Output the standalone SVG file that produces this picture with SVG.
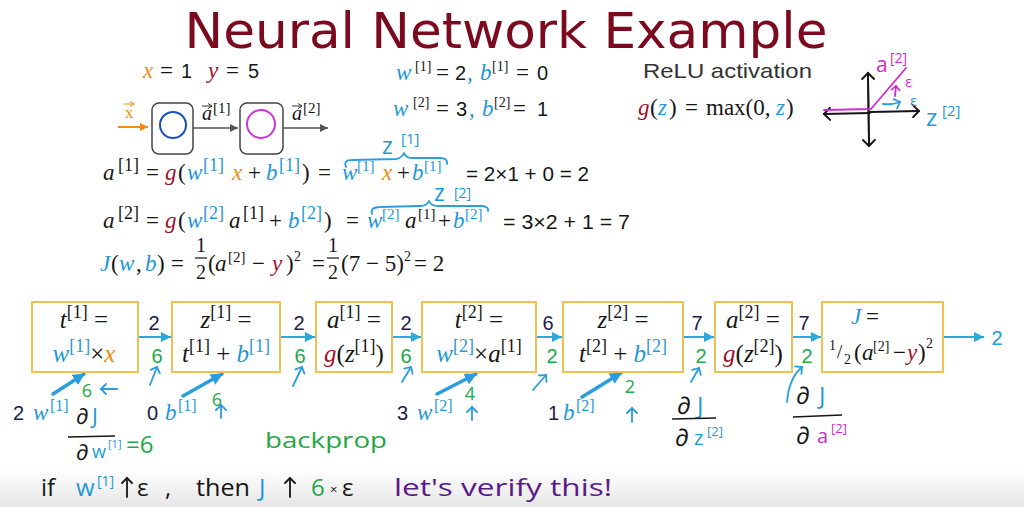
<svg xmlns="http://www.w3.org/2000/svg" width="1024" height="507" viewBox="0 0 1024 507">
<style>
.m{font-family:"Liberation Serif",serif;font-size:23px;fill:#161616}
.bt{font-size:25px}
.i{font-style:italic}
.s{font-size:18px}
.s3{font-size:15px}
.s2{font-size:14px}
.sans{font-family:"Liberation Sans",sans-serif}
.hw{font-family:"Open Sans","DejaVu Sans",sans-serif}
.bl{fill:#1e98d8}
.or{fill:#f08c10}
.rd{fill:#a0102c}
.mg{fill:#d02ad2}
.gr{fill:#22a845}
.nv{fill:#1c1c4e}
.pu{fill:#5a1a8a}
.box{fill:#fff;stroke:#f2c04c;stroke-width:2}
.conn{stroke:#2aa8e0;stroke-width:2;fill:none}
.thick{stroke:#2a9ce0;stroke-width:3.5;fill:none;stroke-linecap:round}
.hand{stroke:#2a9ce0;stroke-width:1.8;fill:none;stroke-linecap:round;stroke-linejoin:round}
.ink{stroke:#161616;stroke-width:1.8;fill:none;stroke-linecap:round;stroke-linejoin:round}
.mgl{stroke:#d02ad2;stroke-width:1.8;fill:none;stroke-linecap:round;stroke-linejoin:round}
.nw{stroke:#555;stroke-width:1.5;fill:none}
.nbox{fill:#fff;stroke:#444;stroke-width:1.5}
</style>
<defs>
<marker id="hBlue" markerUnits="userSpaceOnUse" markerWidth="12" markerHeight="10" refX="10" refY="5" orient="auto"><path d="M0,0 L10,5 L0,10 z" fill="#2aa8e0"/></marker>
<marker id="hThick" markerUnits="userSpaceOnUse" markerWidth="14" markerHeight="12" refX="11" refY="6" orient="auto"><path d="M0,0 L12,6 L0,12 z" fill="#2a9ce0"/></marker>
<marker id="hGray" markerUnits="userSpaceOnUse" markerWidth="10" markerHeight="8" refX="8" refY="4" orient="auto"><path d="M0,0 L8,4 L0,8 z" fill="#555"/></marker>
<marker id="hOrange" markerUnits="userSpaceOnUse" markerWidth="10" markerHeight="8" refX="8" refY="4" orient="auto"><path d="M0,0 L8,4 L0,8 z" fill="#f08c10"/></marker>
<marker id="cBlue" markerUnits="userSpaceOnUse" markerWidth="12" markerHeight="12" refX="6" refY="6" orient="auto"><path d="M1,1 L6,6 L1,11" fill="none" stroke="#2a9ce0" stroke-width="1.8" stroke-linecap="round"/></marker>
<marker id="cInk" markerUnits="userSpaceOnUse" markerWidth="14" markerHeight="14" refX="7" refY="7" orient="auto"><path d="M1,1 L7,7 L1,13" fill="none" stroke="#161616" stroke-width="2" stroke-linecap="round"/></marker>
<marker id="cInkS" markerUnits="userSpaceOnUse" markerWidth="12" markerHeight="12" refX="6" refY="6" orient="auto"><path d="M1,1 L6,6 L1,11" fill="none" stroke="#161616" stroke-width="1.8" stroke-linecap="round"/></marker>
<marker id="cMg" markerUnits="userSpaceOnUse" markerWidth="10" markerHeight="10" refX="5" refY="5" orient="auto"><path d="M1,1 L5,5 L1,9" fill="none" stroke="#d02ad2" stroke-width="1.6" stroke-linecap="round"/></marker>
<marker id="cTiny" markerUnits="userSpaceOnUse" markerWidth="6" markerHeight="6" refX="4" refY="3" orient="auto"><path d="M0,0.5 L4,3 L0,5.5" fill="none" stroke="#333" stroke-width="1"/></marker>
<marker id="cTinyO" markerUnits="userSpaceOnUse" markerWidth="6" markerHeight="6" refX="4" refY="3" orient="auto"><path d="M0,0.5 L4,3 L0,5.5" fill="none" stroke="#f08c10" stroke-width="1"/></marker>
<linearGradient id="fade" x1="0" y1="0" x2="0" y2="1"><stop offset="0" stop-color="#ffffff"/><stop offset="1" stop-color="#e6e6e6"/></linearGradient>
</defs>
<rect width="1024" height="507" fill="#fff"/>
<rect x="0" y="468" width="1024" height="39" fill="url(#fade)"/>

<g id="title">
<text x="506" y="48" text-anchor="middle" font-family="DejaVu Sans, sans-serif" font-size="50" fill="#7b0a1e" textLength="643" lengthAdjust="spacingAndGlyphs">Neural Network Example</text>
</g>

<g id="givens">
<text class="m" y="78"><tspan x="143" class="i or">x</tspan><tspan x="160">=</tspan><tspan x="181" class="sans" font-size="20">1</tspan><tspan x="208" class="i rd">y</tspan><tspan x="226">=</tspan><tspan x="248" class="sans" font-size="20">5</tspan></text>
<text class="m" y="80"><tspan x="396" class="i bl">w</tspan><tspan x="415" y="71" class="s2">[1]</tspan><tspan x="436" y="80">=</tspan><tspan x="455" class="sans" font-size="20">2</tspan><tspan x="467" class="bl">,</tspan><tspan x="480" class="i bl">b</tspan><tspan x="492" y="71" class="s2">[1]</tspan><tspan x="516" y="80">=</tspan><tspan x="537" class="sans" font-size="20">0</tspan></text>
<text class="m" y="116"><tspan x="393" class="i bl">w</tspan><tspan x="413" y="107" class="s2">[2]</tspan><tspan x="436" y="116">=</tspan><tspan x="456" class="sans" font-size="20">3</tspan><tspan x="469" class="bl">,</tspan><tspan x="482" class="i bl">b</tspan><tspan x="494" y="107" class="s2">[2]</tspan><tspan x="513" y="116">=</tspan><tspan x="537" class="sans" font-size="20">1</tspan></text>
</g>

<g id="relu">
<text x="643" y="78" font-family="Liberation Sans, sans-serif" font-size="21" fill="#333" textLength="169" lengthAdjust="spacingAndGlyphs">ReLU activation</text>
<text class="m" y="115"><tspan x="638" class="i rd">g</tspan><tspan x="650">(</tspan><tspan x="658" class="i bl">z</tspan><tspan x="669">)</tspan><tspan x="685">=</tspan><tspan x="706">max(0,</tspan><tspan x="776" class="i bl">z</tspan><tspan x="786">)</tspan></text>
<path class="ink" d="M869,146 L868,73" marker-end="url(#cInk)"/>
<path class="ink" d="M868,73 L869,146" marker-end="url(#cInk)"/>
<path class="ink" d="M870,112 L919,111" marker-end="url(#cInk)"/>
<path class="ink" d="M870,113 L824,114" marker-end="url(#cInk)"/>
<path class="mgl" d="M824,110 L871,109 L906,68"/>
<path class="mgl" d="M895,96 L896,86" marker-end="url(#cMg)"/>
<path class="hand" d="M883,104 Q892,105 900,102" marker-end="url(#cBlue)"/>
<text x="876" y="72" class="hw mg" font-size="21">a</text>
<text x="890" y="63" class="hw mg" font-size="14">[2]</text>
<text x="905" y="87" class="hw mg" font-size="15">ε</text>
<text x="910" y="106" class="hw bl" font-size="15">ε</text>
<text x="926" y="126" class="hw bl" font-size="24">z</text>
<text x="942" y="116" class="hw bl" font-size="15">[2]</text>
</g>

<g id="network">
<rect class="nbox" x="152" y="103" width="41" height="51" rx="7"/>
<circle cx="173" cy="125" r="13" fill="none" stroke="#1a4fc0" stroke-width="2"/>
<rect class="nbox" x="240" y="103" width="43" height="51" rx="7"/>
<circle cx="261" cy="124" r="14" fill="none" stroke="#d030d8" stroke-width="2"/>
<line x1="118" y1="127" x2="148" y2="127" stroke="#f08c10" stroke-width="2" marker-end="url(#hOrange)"/>
<line x1="193" y1="128" x2="238" y2="128" class="nw" marker-end="url(#hGray)"/>
<line x1="283" y1="128" x2="328" y2="128" class="nw" marker-end="url(#hGray)"/>
<text x="125" y="118" font-family="Liberation Serif, serif" font-size="17" fill="#f08c10">x</text>
<line x1="124" y1="104" x2="134" y2="104" stroke="#f08c10" stroke-width="1" marker-end="url(#cTinyO)"/>
<text x="202" y="120" class="m i" style="font-size:20px">a</text>
<text x="213" y="113" class="m" style="font-size:15px">[1]</text>
<line x1="202" y1="106" x2="212" y2="106" stroke="#333" stroke-width="1" marker-end="url(#cTiny)"/>
<text x="292" y="120" class="m i" style="font-size:20px">a</text>
<text x="303" y="113" class="m" style="font-size:15px">[2]</text>
<line x1="292" y1="106" x2="302" y2="106" stroke="#333" stroke-width="1" marker-end="url(#cTiny)"/>
</g>

<g id="equations">
<text class="m" y="180"><tspan x="103" class="i">a</tspan><tspan x="118" y="171" class="s">[1]</tspan><tspan x="146" y="180">=</tspan><tspan x="165" class="i rd">g</tspan><tspan x="178">(</tspan><tspan x="187" class="i bl">w</tspan><tspan x="203" y="171" class="s bl">[1]</tspan><tspan x="232" y="180" class="i or">x</tspan><tspan x="248">+</tspan><tspan x="266" class="i bl">b</tspan><tspan x="279" y="171" class="s bl">[1]</tspan><tspan x="302" y="180">)</tspan><tspan x="318">=</tspan><tspan x="342" class="i bl">w</tspan><tspan x="357" y="171" class="s3 bl">[1]</tspan><tspan x="382" y="180" class="i or">x</tspan><tspan x="397">+</tspan><tspan x="412" class="i bl">b</tspan><tspan x="424" y="171" class="s3 bl">[1]</tspan></text>
<text class="m sans" x="466" y="181" style="font-size:21px" textLength="123" lengthAdjust="spacingAndGlyphs">= 2×1 + 0 = 2</text>
<text class="m" y="228"><tspan x="103" class="i">a</tspan><tspan x="118" y="219" class="s">[2]</tspan><tspan x="146" y="228">=</tspan><tspan x="165" class="i rd">g</tspan><tspan x="178">(</tspan><tspan x="187" class="i bl">w</tspan><tspan x="203" y="219" class="s bl">[2]</tspan><tspan x="229" y="228" class="i">a</tspan><tspan x="243" y="219" class="s">[1]</tspan><tspan x="269" y="228">+</tspan><tspan x="288" class="i bl">b</tspan><tspan x="301" y="219" class="s bl">[2]</tspan><tspan x="324" y="228">)</tspan><tspan x="346">=</tspan><tspan x="367" class="i bl">w</tspan><tspan x="382" y="219" class="s3 bl">[2]</tspan><tspan x="405" y="228" class="i">a</tspan><tspan x="418" y="219" class="s3">[1]</tspan><tspan x="438" y="228">+</tspan><tspan x="453" class="i bl">b</tspan><tspan x="465" y="219" class="s3 bl">[2]</tspan></text>
<text class="m sans" x="503" y="229" style="font-size:21px" textLength="127" lengthAdjust="spacingAndGlyphs">=  3×2 + 1 = 7</text>
<text class="m" y="271"><tspan x="100" class="i bl">J</tspan><tspan x="111">(</tspan><tspan x="119" class="i bl">w</tspan><tspan x="136">,</tspan><tspan x="145" class="i bl">b</tspan><tspan x="157">)</tspan><tspan x="171">=</tspan><tspan x="208">(</tspan><tspan x="215" class="i">a</tspan><tspan x="228" y="262" class="s3">[2]</tspan><tspan x="252" y="271">−</tspan><tspan x="272" class="i rd">y</tspan><tspan x="286">)</tspan><tspan x="294" y="261" class="s2">2</tspan><tspan x="312" y="271">=</tspan><tspan x="341">(7 − 5)</tspan><tspan x="404" y="261" class="s2">2</tspan><tspan x="414" y="271">= 2</tspan></text>
<text class="m" x="201" y="252" text-anchor="middle" style="font-size:20px">1</text>
<line x1="195" y1="258" x2="207" y2="258" stroke="#161616" stroke-width="1.2"/>
<text class="m" x="201" y="279" text-anchor="middle" style="font-size:20px">2</text>
<text class="m" x="333" y="252" text-anchor="middle" style="font-size:20px">1</text>
<line x1="327" y1="258" x2="339" y2="258" stroke="#161616" stroke-width="1.2"/>
<text class="m" x="333" y="279" text-anchor="middle" style="font-size:20px">2</text>
<path class="hand" d="M346,167 Q343,160 352,160 L396,159 Q402,158 404,153 Q406,158 412,158 L440,158 Q448,158 447,164"/>
<text x="382" y="154" class="hw bl" font-size="23">z</text>
<text x="401" y="144" class="hw bl" font-size="15">[1]</text>
<path class="hand" d="M372,214 Q370,207 380,207 L420,206 Q427,206 429,201 Q431,206 438,206 L480,206 Q489,206 488,211"/>
<text x="434" y="201" class="hw bl" font-size="23">z</text>
<text x="454" y="198" class="hw bl" font-size="14">[2]</text>
</g>

<g id="connectors">
<line class="conn" x1="138" y1="337" x2="171" y2="337" marker-end="url(#hBlue)"/>
<line class="conn" x1="280" y1="337" x2="315" y2="337" marker-end="url(#hBlue)"/>
<line class="conn" x1="392" y1="337" x2="421" y2="337" marker-end="url(#hBlue)"/>
<line class="conn" x1="536" y1="337" x2="562" y2="337" marker-end="url(#hBlue)"/>
<line class="conn" x1="683" y1="337" x2="714" y2="337" marker-end="url(#hBlue)"/>
<line class="conn" x1="792" y1="337" x2="821" y2="337" marker-end="url(#hBlue)"/>
<line class="conn" x1="943" y1="337" x2="984" y2="337" marker-end="url(#hBlue)"/>
<line class="thick" x1="53" y1="394" x2="84" y2="374" marker-end="url(#hThick)"/>
<line class="thick" x1="183" y1="396" x2="222" y2="374" marker-end="url(#hThick)"/>
<line class="thick" x1="437" y1="394" x2="476" y2="374" marker-end="url(#hThick)"/>
<line class="thick" x1="582" y1="397" x2="621" y2="373" marker-end="url(#hThick)"/>
</g>

<g id="box-t1">
<rect class="box" x="32" y="302" width="106" height="70"/>
<text class="m bt" x="84" y="328" text-anchor="middle"><tspan class="i">t</tspan><tspan class="s" dy="-10">[1]</tspan><tspan dy="10"> =</tspan></text>
<text class="m bt" x="84" y="362" text-anchor="middle"><tspan class="i bl">w</tspan><tspan class="s bl" dy="-10">[1]</tspan><tspan dy="10">×</tspan><tspan class="i or">x</tspan></text>
</g>
<g id="box-z1">
<rect class="box" x="172" y="302" width="108" height="70"/>
<text class="m bt" x="226" y="328" text-anchor="middle"><tspan class="i">z</tspan><tspan class="s" dy="-10">[1]</tspan><tspan dy="10"> =</tspan></text>
<text class="m bt" x="226" y="362" text-anchor="middle"><tspan class="i">t</tspan><tspan class="s" dy="-10">[1]</tspan><tspan dy="10"> + </tspan><tspan class="i bl">b</tspan><tspan class="s bl" dy="-10">[1]</tspan></text>
</g>
<g id="box-a1">
<rect class="box" x="316" y="302" width="76" height="70"/>
<text class="m bt" x="354" y="328" text-anchor="middle"><tspan class="i">a</tspan><tspan class="s" dy="-10">[1]</tspan><tspan dy="10"> =</tspan></text>
<text class="m bt" x="354" y="362" text-anchor="middle"><tspan class="i rd">g</tspan><tspan>(</tspan><tspan class="i">z</tspan><tspan class="s" dy="-10">[1]</tspan><tspan dy="10">)</tspan></text>
</g>
<g id="box-t2">
<rect class="box" x="422" y="302" width="114" height="70"/>
<text class="m bt" x="479" y="328" text-anchor="middle"><tspan class="i">t</tspan><tspan class="s" dy="-10">[2]</tspan><tspan dy="10"> =</tspan></text>
<text class="m bt" x="479" y="362" text-anchor="middle"><tspan class="i bl">w</tspan><tspan class="s bl" dy="-10">[2]</tspan><tspan dy="10">×</tspan><tspan class="i">a</tspan><tspan class="s" dy="-10">[1]</tspan></text>
</g>
<g id="box-z2">
<rect class="box" x="563" y="302" width="120" height="70"/>
<text class="m bt" x="623" y="328" text-anchor="middle"><tspan class="i">z</tspan><tspan class="s" dy="-10">[2]</tspan><tspan dy="10"> =</tspan></text>
<text class="m bt" x="623" y="362" text-anchor="middle"><tspan class="i">t</tspan><tspan class="s" dy="-10">[2]</tspan><tspan dy="10"> + </tspan><tspan class="i bl">b</tspan><tspan class="s bl" dy="-10">[2]</tspan></text>
</g>
<g id="box-a2">
<rect class="box" x="715" y="302" width="77" height="70"/>
<text class="m bt" x="753" y="328" text-anchor="middle"><tspan class="i">a</tspan><tspan class="s" dy="-10">[2]</tspan><tspan dy="10"> =</tspan></text>
<text class="m bt" x="753" y="362" text-anchor="middle"><tspan class="i rd">g</tspan><tspan>(</tspan><tspan class="i">z</tspan><tspan class="s" dy="-10">[2]</tspan><tspan dy="10">)</tspan></text>
</g>
<g id="box-J">
<rect class="box" x="822" y="302" width="121" height="70"/>
<text class="m" y="324"><tspan x="851" class="i bl">J</tspan><tspan x="866">=</tspan></text>
<text class="m" y="360"><tspan x="829" y="350" class="s2">1</tspan><tspan x="837" y="358" style="font-size:19px">/</tspan><tspan x="844" y="364" class="s2">2</tspan><tspan x="854" y="360">(</tspan><tspan x="862" class="i">a</tspan><tspan x="873" y="351" class="s2">[2]</tspan><tspan x="893" y="360">−</tspan><tspan x="907" class="i rd">y</tspan><tspan x="918">)</tspan><tspan x="926" y="348" class="s2">2</tspan></text>
</g>

<g id="values" font-family="Liberation Sans, sans-serif" font-size="20" text-anchor="middle">
<text x="154" y="330" class="nv">2</text><text x="157" y="363" class="gr">6</text>
<text x="299" y="330" class="nv">2</text><text x="300" y="363" class="gr">6</text>
<text x="406" y="330" class="nv">2</text><text x="406" y="363" class="gr">6</text>
<text x="548" y="330" class="nv">6</text><text x="552" y="363" class="gr">2</text>
<text x="697" y="330" class="nv">7</text><text x="701" y="363" class="gr">2</text>
<text x="804" y="330" class="nv">7</text><text x="807" y="363" class="gr">2</text>
<text x="997" y="345" class="bl">2</text>
</g>

<g id="inputs">
<text x="13" y="420" class="sans nv" font-size="20">2</text>
<text class="m" y="420"><tspan x="33" class="i bl">w</tspan><tspan x="50" y="411" class="bl" style="font-size:16px">[1]</tspan></text>
<text x="147" y="420" class="sans nv" font-size="20">0</text>
<text class="m" y="420"><tspan x="165" class="i bl">b</tspan><tspan x="178" y="411" class="bl" style="font-size:16px">[1]</tspan></text>
<text x="397" y="420" class="sans nv" font-size="20">3</text>
<text class="m" y="420"><tspan x="417" class="i bl">w</tspan><tspan x="434" y="411" class="bl" style="font-size:16px">[2]</tspan></text>
<text x="548" y="420" class="sans nv" font-size="20">1</text>
<text class="m" y="420"><tspan x="563" class="i bl">b</tspan><tspan x="576" y="411" class="bl" style="font-size:16px">[2]</tspan></text>
</g>

<g id="backprop-notes">
<path class="hand" d="M150,385 L157,367" marker-end="url(#cBlue)"/>
<path class="hand" d="M293,386 L302,367" marker-end="url(#cBlue)"/>
<path class="hand" d="M402,382 L411,367" marker-end="url(#cBlue)"/>
<path class="hand" d="M533,390 L546,375" marker-end="url(#cBlue)"/>
<path class="hand" d="M691,382 L699,368" marker-end="url(#cBlue)"/>
<path class="hand" d="M787,402 Q789,378 802,367" marker-end="url(#cBlue)"/>
<path class="hand" d="M117,389 L101,389" marker-end="url(#cBlue)"/>
<path class="hand" d="M221,418 L221,405" marker-end="url(#cBlue)"/>
<path class="hand" d="M472,420 L472,407" marker-end="url(#cBlue)"/>
<path class="hand" d="M632,422 L632,408" marker-end="url(#cBlue)"/>
<text x="87" y="397" class="hw gr" font-size="18" text-anchor="middle">6</text>
<text x="217" y="406" class="hw gr" font-size="18" text-anchor="middle">6</text>
<text x="470" y="400" class="hw gr" font-size="18" text-anchor="middle">4</text>
<text x="630" y="393" class="hw gr" font-size="18" text-anchor="middle">2</text>
<text x="76" y="424" class="hw" font-size="22" fill="#161616">∂</text>
<text x="92" y="424" class="hw bl" font-size="22">J</text>
<line x1="68" y1="437" x2="115" y2="436" stroke="#161616" stroke-width="1.5"/>
<text x="76" y="460" class="hw" font-size="22" fill="#161616">∂</text>
<text x="92" y="458" class="hw bl" font-size="18">w</text>
<text x="108" y="448" class="hw bl" font-size="11">[1]</text>
<text x="126" y="453" class="hw gr" font-size="24">=6</text>
<text x="265" y="448" class="hw gr" font-size="22" textLength="122" lengthAdjust="spacingAndGlyphs">backprop</text>
<text x="677" y="414" class="hw" font-size="24" fill="#161616">∂</text>
<text x="697" y="414" class="hw bl" font-size="24">J</text>
<line x1="672" y1="419" x2="716" y2="418" stroke="#161616" stroke-width="1.5"/>
<text x="675" y="446" class="hw" font-size="24" fill="#161616">∂</text>
<text x="694" y="445" class="hw bl" font-size="20">z</text>
<text x="707" y="436" class="hw bl" font-size="13">[2]</text>
<text x="796" y="404" class="hw" font-size="24" fill="#161616">∂</text>
<text x="819" y="404" class="hw bl" font-size="24">J</text>
<line x1="793" y1="417" x2="842" y2="415" stroke="#161616" stroke-width="1.5"/>
<text x="796" y="444" class="hw" font-size="24" fill="#161616">∂</text>
<text x="817" y="443" class="hw mg" font-size="20">a</text>
<text x="831" y="433" class="hw mg" font-size="13">[2]</text>
</g>

<g id="conclusion" class="hw" font-size="24">
<text x="41" y="496" fill="#161616">if</text>
<text x="76" y="496" class="bl">w</text>
<text x="97" y="486" class="bl" font-size="14">[1]</text>
<path class="ink" d="M127,497 L127,478" marker-end="url(#cInkS)"/>
<text x="137" y="496" fill="#161616">ε</text>
<text x="165" y="496" fill="#161616">,</text>
<text x="196" y="496" fill="#161616" textLength="54" lengthAdjust="spacingAndGlyphs">then</text>
<text x="259" y="496" class="bl">J</text>
<path class="ink" d="M290,497 L290,478" marker-end="url(#cInkS)"/>
<text x="311" y="496" class="gr">6</text>
<text x="330" y="494" fill="#161616" font-size="13">×</text>
<text x="342" y="496" fill="#161616">ε</text>
<text x="394" y="496" class="pu" textLength="218" lengthAdjust="spacingAndGlyphs">let's verify this!</text>
</g>
</svg>
